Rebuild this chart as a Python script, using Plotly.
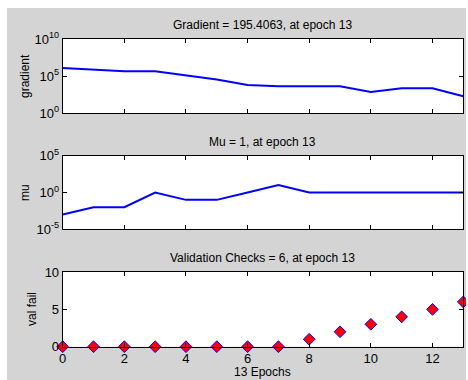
import plotly.graph_objects as go

# ---- data ----
epochs = list(range(14))
gradient = [1.25e6, 6.7e5, 4.5e5, 4.5e5, 1.15e5, 3.5e4, 6.5e3, 4.3e3, 4.3e3, 4.3e3, 7.4e2, 2.3e3, 2.3e3, 195.4063]
mu = [1e-3, 1e-2, 1e-2, 1.0, 1e-1, 1e-1, 1.0, 10.0, 1.0, 1.0, 1.0, 1.0, 1.0, 1.0]
val_fail = [0, 0, 0, 0, 0, 0, 0, 0, 1, 2, 3, 4, 5, 6]

titles = ["Gradient = 195.4063, at epoch 13", "Mu = 1, at epoch 13", "Validation Checks = 6, at epoch 13"]
ylabels = ["gradient", "mu", "val fail"]
xlabel = "13 Epochs"

W, H = 468, 380
FONT = "Liberation Sans, Arial, sans-serif"
GRAY = "#d4d4d4"

def px(x):
    return x / W

def py(y):
    return 1 - y / H

xdom = [px(62.7), px(463.3)]
panels = [(39, 113.3), (155.7, 229.3), (272, 346.7)]

fig = go.Figure()
fig.add_trace(go.Scatter(x=epochs, y=gradient, mode="lines", line=dict(color="#0000ff", width=2),
                         xaxis="x", yaxis="y", showlegend=False))
fig.add_trace(go.Scatter(x=epochs, y=mu, mode="lines", line=dict(color="#0000ff", width=2),
                         xaxis="x2", yaxis="y2", showlegend=False))
fig.add_trace(go.Scatter(x=epochs, y=val_fail, mode="markers",
                         marker=dict(symbol="diamond", size=9, color="#ff0000",
                                     line=dict(color="#0000ff", width=1)),
                         cliponaxis=False, xaxis="x3", yaxis="y3", showlegend=False))

common_x = dict(range=[0, 13], dtick=2, tick0=0, ticks="inside", ticklen=4, tickcolor="black",
                showline=True, linecolor="black", linewidth=1, mirror="ticks",
                showgrid=False, zeroline=False, domain=xdom, automargin=False,
                tickfont=dict(family=FONT, size=13, color="black"))
common_y = dict(ticks="inside", ticklen=4, tickcolor="black",
                showline=True, linecolor="black", linewidth=1, mirror="ticks",
                showgrid=False, zeroline=False, automargin=False,
                tickfont=dict(family=FONT, size=13, color="black"))

layout = dict(
    width=W, height=H,
    margin=dict(l=0, r=0, t=0, b=0, pad=0),
    paper_bgcolor=GRAY, plot_bgcolor="white",
    showlegend=False,
    font=dict(family=FONT, size=12, color="black"),
)
layout["xaxis"] = dict(common_x, anchor="y", showticklabels=False)
layout["xaxis2"] = dict(common_x, anchor="y2", showticklabels=False)
layout["xaxis3"] = dict(common_x, anchor="y3", showticklabels=True)
layout["yaxis"] = dict(common_y, type="log", range=[0, 10], anchor="x",
                       domain=[py(panels[0][1]), py(panels[0][0])],
                       tickvals=[1, 1e5, 1e10],
                       ticktext=["10<sup>0</sup>", "10<sup>5</sup>", "10<sup>10</sup>"])
layout["yaxis2"] = dict(common_y, type="log", range=[-5, 5], anchor="x2",
                        domain=[py(panels[1][1]), py(panels[1][0])],
                        tickvals=[1e-5, 1, 1e5],
                        ticktext=["10<sup>-5</sup>", "10<sup>0</sup>", "10<sup>5</sup>"])
layout["yaxis3"] = dict(common_y, range=[0, 10], anchor="x3",
                        domain=[py(panels[2][1]), py(panels[2][0])],
                        tickvals=[0, 5, 10])
fig.update_layout(**layout)

# white border strips seen in the reference (outside plot areas)
for (x0, x1, y0, y1) in [(0, 7, 0, H), (0, W, 0, 8), (466, W, 0, H)]:
    fig.add_shape(type="rect", xref="paper", yref="paper",
                  x0=px(x0), x1=px(x1), y0=py(y1), y1=py(y0),
                  fillcolor="white", line=dict(width=0), layer="above")

ann = []
title_y = [25, 141.7, 258]
for t, yy in zip(titles, title_y):
    ann.append(dict(text=t, x=px(262.5), y=py(yy), xref="paper", yref="paper",
                    showarrow=False, xanchor="center", yanchor="middle",
                    font=dict(family=FONT, size=12, color="black")))
ylab_pos = [(25, 76), (25, 193), (32, 309)]
for t, (xx, yy) in zip(ylabels, ylab_pos):
    ann.append(dict(text=t, x=px(xx), y=py(yy), xref="paper", yref="paper",
                    showarrow=False, xanchor="center", yanchor="middle", textangle=-90,
                    font=dict(family=FONT, size=12, color="black")))
ann.append(dict(text=xlabel, x=px(262), y=py(372), xref="paper", yref="paper",
                showarrow=False, xanchor="center", yanchor="middle",
                font=dict(family=FONT, size=12, color="black")))
fig.update_layout(annotations=ann)

fig.write_html(
    "out.html",
    config={"displayModeBar": False},
    post_script=(
        "document.body.style.margin='0';"
        "document.body.style.padding='0';"
        "document.body.style.overflow='hidden';"
        "document.documentElement.style.overflow='hidden';"
    ),
)
